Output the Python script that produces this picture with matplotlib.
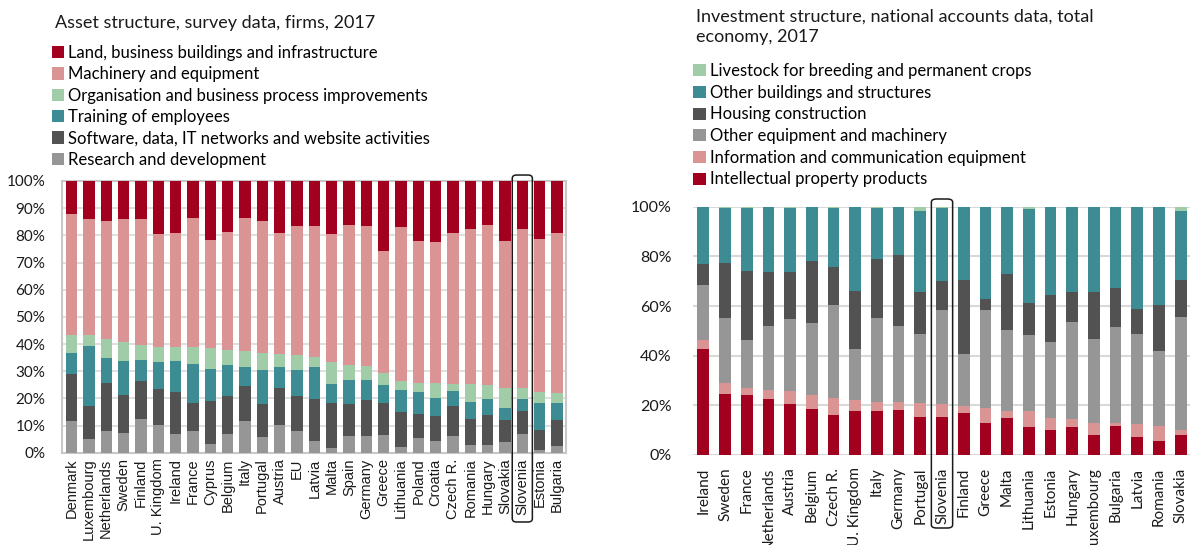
import numpy as np
import matplotlib
matplotlib.use("Agg")
import matplotlib.pyplot as plt
from matplotlib.patches import FancyBboxPatch
import matplotlib.transforms as mtransforms

# ---- left chart: asset structure, survey data (cumulative tops, %) ----
left_countries = ["Denmark", "Luxembourg", "Netherlands", "Sweden", "Finland", "U. Kingdom",
                  "Ireland", "France", "Cyprus", "Belgium", "Italy", "Portugal", "Austria", "EU",
                  "Latvia", "Malta", "Spain", "Germany", "Greece", "Lithuania", "Poland", "Croatia",
                  "Czech R.", "Romania", "Hungary", "Slovakia", "Slovenia", "Estonia", "Bulgaria"]
rnd_top = [11.6, 4.9, 8.0, 7.4, 12.5, 10.3, 7.0, 8.0, 3.3, 7.0, 11.6, 5.9, 10.3, 8.0,
           4.4, 1.8, 6.0, 6.0, 6.4, 2.0, 5.4, 4.4, 6.3, 3.0, 3.0, 3.9, 6.9, 1.0, 2.5]
soft_top = [28.9, 17.3, 25.8, 21.3, 26.3, 23.4, 22.4, 18.3, 18.9, 20.8, 24.4, 17.8, 23.7, 20.8,
            19.8, 18.3, 17.8, 19.3, 18.3, 14.9, 14.1, 13.4, 17.2, 12.4, 13.8, 11.9, 15.4, 8.4, 11.9]
train_top = [36.8, 39.2, 34.8, 33.7, 34.3, 33.3, 33.7, 32.8, 30.8, 32.2, 31.4, 30.4, 31.4, 30.4,
             31.4, 25.2, 26.7, 26.7, 24.8, 22.9, 22.3, 20.3, 22.8, 18.8, 19.7, 16.4, 19.7, 18.2, 18.2]
org_top = [43.4, 43.4, 41.9, 40.8, 39.5, 38.9, 38.9, 38.9, 38.4, 37.9, 37.3, 36.8, 36.5, 35.8,
           35.3, 33.5, 32.3, 31.9, 29.4, 26.4, 25.8, 25.8, 25.3, 25.3, 24.8, 23.9, 23.9, 22.5, 21.8]
mach_top = [87.8, 85.9, 85.4, 85.9, 85.9, 80.4, 80.9, 86.3, 78.4, 81.4, 86.3, 85.4, 80.9, 83.4,
            83.4, 80.4, 83.8, 83.4, 74.4, 82.9, 77.9, 77.4, 80.9, 82.4, 83.9, 77.9, 82.3, 78.8, 80.8]
left_labels = ["Research and development", "Software, data, IT networks and website activities",
               "Training of employees", "Organisation and business process improvements",
               "Machinery and equipment", "Land, business buildings and infrastructure"]

# ---- right chart: investment structure, national accounts (cumulative tops, %) ----
right_countries = ["Ireland", "Sweden", "France", "Netherlands", "Austria", "Belgium", "Czech R.",
                   "U. Kingdom", "Italy", "Germany", "Portugal", "Slovenia", "Finland", "Greece",
                   "Malta", "Lithuania", "Estonia", "Hungary", "Luxembourg", "Bulgaria", "Latvia",
                   "Romania", "Slovakia"]
ip_top = [42.7, 24.6, 24.0, 22.4, 20.7, 18.5, 16.0, 17.6, 17.6, 18.1, 15.3, 15.4, 17.0, 12.8,
          14.9, 11.1, 10.1, 11.1, 8.1, 11.8, 7.4, 5.8, 8.1]
ict_top = [46.2, 28.9, 26.8, 26.2, 25.6, 24.0, 23.0, 22.0, 21.3, 21.3, 20.8, 20.4, 19.7, 18.8,
           17.7, 17.7, 14.9, 14.4, 12.8, 12.8, 12.3, 11.8, 10.1]
oeq_top = [68.5, 55.2, 46.2, 51.9, 54.6, 53.2, 60.5, 42.8, 55.2, 51.9, 48.7, 58.4, 40.7, 58.4,
           50.3, 48.3, 45.5, 53.6, 46.7, 51.5, 48.7, 41.9, 55.7]
house_top = [76.9, 77.4, 74.2, 73.8, 73.8, 78.1, 75.8, 66.2, 78.8, 80.7, 65.8, 70.1, 70.6, 62.7,
             72.8, 61.3, 64.3, 65.8, 65.8, 67.4, 58.8, 60.5, 70.5]
obuild_top = [100, 99.5, 99.5, 100, 99.6, 100, 99.6, 100, 99.6, 100, 98.4, 99.5, 100, 99.7,
              99.7, 98.9, 100, 99.7, 100, 99.7, 99.7, 100, 98.4]
right_labels = ["Intellectual property products", "Information and communication equipment",
                "Other equipment and machinery", "Housing construction",
                "Other buildings and structures", "Livestock for breeding and permanent crops"]

colors = ["#969696", "#525252", "#3E8C93", "#A0CDA8", "#DB9494", "#A1001E"]
right_colors = ["#A1001E", "#DB9494", "#969696", "#525252", "#3E8C93", "#A0CDA8"]

TXT = "Lato"
GRID = "#D9D9D9"


def stack_segments(tops):
    # turn cumulative tops into (bottom, height) pairs per series
    out = []
    prev = np.zeros(len(tops[0]))
    for t in tops:
        t = np.array(t, dtype=float)
        out.append((prev, t - prev))
        prev = t
    return out


def highlight(ax, idx, half, ytop, ybot):
    trans = mtransforms.blended_transform_factory(ax.transData, ax.transAxes)
    box = FancyBboxPatch((idx - half, ybot), 2 * half, ytop - ybot,
                         boxstyle="round,pad=0,rounding_size=0.25",
                         transform=trans, fill=False, edgecolor="#1a1a1a", lw=1.1,
                         clip_on=False, zorder=5, mutation_aspect=0.05)
    ax.add_patch(box)


def main():
    fig = plt.figure(figsize=(11.9, 5.45), dpi=100)

    # ---------------- left ----------------
    axL = fig.add_axes([62 / 1190, (545 - 452.7) / 545, (566 - 62) / 1190, 271.7 / 545])
    x = np.arange(len(left_countries))
    tops = [rnd_top, soft_top, train_top, org_top, mach_top, [100] * len(x)]
    handles = []
    for (b, h), c, lab in zip(stack_segments(tops), colors, left_labels):
        hb = axL.bar(x, h, bottom=b, width=0.65, color=c, label=lab, zorder=3)
        handles.append(hb)
    axL.set_xlim(-0.55, len(x) - 0.48)
    axL.set_ylim(0, 100)
    axL.set_yticks(np.arange(0, 101, 10))
    axL.set_yticklabels([f"{v}%" for v in range(0, 101, 10)], fontsize=11, family=TXT)
    axL.set_xticks(x)
    axL.set_xticklabels(left_countries, rotation=90, fontsize=10.5, family="Liberation Sans")
    axL.tick_params(axis="both", length=0, colors="#1a1a1a")
    axL.tick_params(axis="y", pad=12)
    axL.tick_params(axis="x", pad=4)
    axL.yaxis.grid(True, color=GRID, lw=1.2, zorder=0)
    for s in axL.spines.values():
        s.set_color("#C8C8C8")
        s.set_linewidth(1.5)
    axL.legend(handles[::-1], left_labels[::-1], loc="upper left",
               bbox_to_anchor=(-0.034, 1.525), frameon=False, handlelength=0.75,
               handleheight=0.75, handletextpad=0.25, labelspacing=0.32, borderaxespad=0,
               prop={"family": TXT, "size": 12})
    fig.text(55 / 1190, 1 - 28 / 545, "Asset structure, survey data, firms, 2017",
             family=TXT, fontsize=13, color="#1a1a1a")
    highlight(axL, left_countries.index("Slovenia"), 0.58, 1.022, -0.255)

    # ---------------- right ----------------
    axR = fig.add_axes([692.7 / 1190, 90 / 545, (1190 - 692.7) / 1190, 248.3 / 545])
    xr = np.arange(len(right_countries))
    tops_r = [ip_top, ict_top, oeq_top, house_top, obuild_top, [100] * len(xr)]
    handles_r = []
    for (b, h), c, lab in zip(stack_segments(tops_r), right_colors, right_labels):
        hb = axR.bar(xr, h, bottom=b, width=0.54, color=c, label=lab, zorder=3)
        handles_r.append(hb)
    axR.set_xlim(-0.49, len(xr) - 0.57)
    axR.set_ylim(0, 100)
    axR.set_yticks(np.arange(0, 101, 20))
    axR.set_yticklabels([f"{v}%" for v in range(0, 101, 20)], fontsize=11.5, family=TXT)
    axR.set_xticks(xr)
    axR.set_xticklabels(right_countries, rotation=90, fontsize=11, family=TXT)
    axR.tick_params(axis="both", length=0, colors="#1a1a1a")
    axR.tick_params(axis="y", pad=15)
    axR.tick_params(axis="x", pad=9)
    axR.yaxis.grid(True, color=GRID, lw=1.5, zorder=0)
    for s in axR.spines.values():
        s.set_visible(False)
    axR.legend(handles_r[::-1], right_labels[::-1], loc="upper left",
               bbox_to_anchor=(-0.012, 1.605), frameon=False, handlelength=0.75,
               handleheight=0.75, handletextpad=0.25, labelspacing=0.34, borderaxespad=0,
               prop={"family": TXT, "size": 12})
    fig.text(696 / 1190, 1 - 42 / 545,
             "Investment structure, national accounts data, total\neconomy, 2017",
             family=TXT, fontsize=13, color="#1a1a1a", linespacing=1.3)
    highlight(axR, right_countries.index("Slovenia"), 0.49, 1.031, -0.294)

    fig.savefig("out.png", dpi=100)


if __name__ == "__main__":
    main()
